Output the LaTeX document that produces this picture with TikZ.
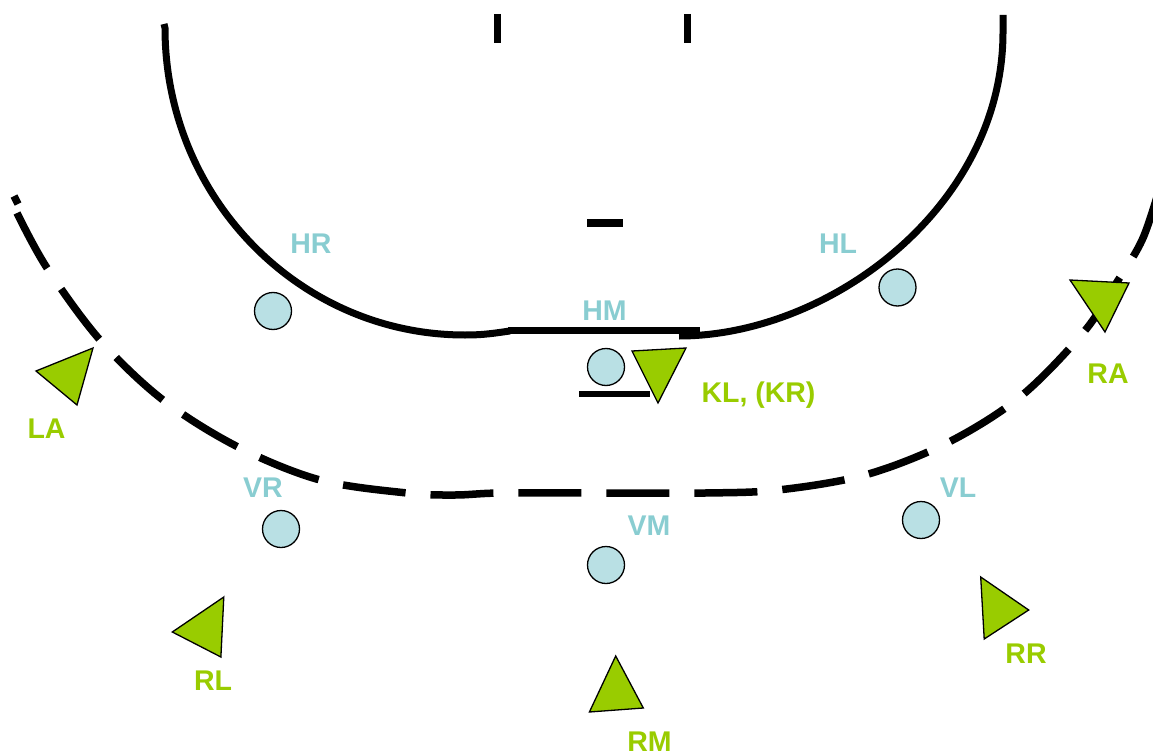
\documentclass[tikz,border=0pt]{standalone}
\usepackage{fontspec}
\setmainfont{Liberation Sans}
\definecolor{deftext}{RGB}{137,205,209}
\definecolor{defblue}{RGB}{185,224,228}
\definecolor{attgreen}{RGB}{153,204,0}
\begin{document}
\begin{tikzpicture}[x=1pt,y=-1pt,
  court/.style={line width=7pt},
  ninem/.style={line width=7.5pt, dash pattern=on 63pt off 25pt},
  defender/.style={circle, draw=black, line width=1.3pt, fill=defblue, minimum size=37pt, inner sep=0pt},
  deflabel/.style={anchor=base, inner sep=0pt, text=deftext, font=\fontsize{28.5}{32}\selectfont\bfseries},
  attlabel/.style={anchor=base, inner sep=0pt, text=attgreen, font=\fontsize{28.5}{32}\selectfont\bfseries},
  attacker/.style={fill=attgreen, draw=black, line width=1.3pt, line join=miter}]
\useasboundingbox (0,0) rectangle (1153,754);
\clip (0,0) rectangle (1153,754);

% 9 m line (dashed)
\draw[ninem] plot[smooth, tension=0.55] coordinates {(17,213) (47,268) (100,340) (163,400) (238,447) (320,480) (407,493) (455,495) (500,493) (600,493) (705,493) (778,490) (865,475) (947,443) (1020,397) (1083,333) (1117,282) (1143,238) (1162,180)};
\draw[line width=7.5pt] (14,196) -- (18,204);

% 6 m line (solid)
\draw[court] (164,24) -- (165,28) .. controls (165,197.6) and (299.3,335) .. (465,335) .. controls (485,335) and (495,333) .. (510,331);
\draw[court] (508,330.5) -- (700,330.5);
\draw[court] (679,336) .. controls (829,336) and (1003,207) .. (1003,32) -- (1003,15);

% goal posts and marks
\draw[court] (497,14) -- (497,43);
\draw[court] (687,14) -- (687,43);
\draw[line width=7.5pt] (587,223) -- (623,223);
\draw[line width=6pt] (579,394) -- (650,394);

% attackers
\draw[attacker] (36,371) -- (93,348) -- (77,405) -- cycle;
\draw[attacker] (1070,280) -- (1129,283) -- (1105,332) -- cycle;
\draw[attacker] (632,351) -- (686,348) -- (658,403) -- cycle;
\draw[attacker] (172.3,632) -- (223.8,597) -- (220.9,657) -- cycle;
\draw[attacker] (615.7,656) -- (643.3,708) -- (589.4,712) -- cycle;
\draw[attacker] (980.7,577) -- (1028.7,610) -- (984.2,639) -- cycle;

% defenders
\node[defender] (hr) at (273,311) {};
\node[defender] (hl) at (897.5,287.5) {};
\node[defender] (hm) at (606,367) {};
\node[defender] (vr) at (281,529) {};
\node[defender] (vl) at (921,520) {};
\node[defender] (vm) at (606,565) {};

% labels
\node[deflabel] (lhr) at (311,253) {HR};
\node[deflabel] (lhl) at (838,253) {HL};
\node[deflabel] (lhm) at (604.5,320) {HM};
\node[deflabel] (lvr) at (263,497) {VR};
\node[deflabel] (lvl) at (958,497) {VL};
\node[deflabel] (lvm) at (649,535) {VM};

\node[attlabel] (lla) at (46.5,438) {LA};
\node[attlabel] (lra) at (1108,383) {RA};
\node[attlabel] (lkl) at (758.5,402) {KL, (KR)};
\node[attlabel] (lrl) at (213,690) {RL};
\node[attlabel] (lrr) at (1026,663) {RR};
\node[attlabel] (lrm) at (649.5,751) {RM};
\end{tikzpicture}
\end{document}
